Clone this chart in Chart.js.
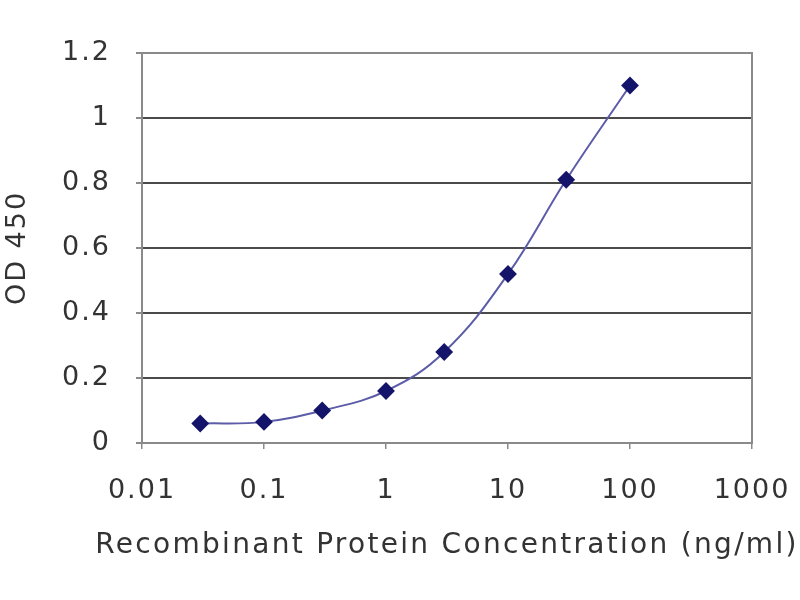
<!DOCTYPE html>
<html>
<head>
<meta charset="utf-8">
<script src="https://cdn.jsdelivr.net/npm/chart.js@4"></script>
<style>
  html, body { margin: 0; padding: 0; background: #fff; }
  #wrap { width: 800px; height: 600px; }
</style>
</head>
<body>
<div id="wrap"><canvas id="odChart" width="800" height="600"></canvas></div>
<script>
// concentration (ng/ml) and OD 450 readings
const concentrations = [0.03, 0.1, 0.3, 1, 3, 10, 30, 100];
const odValues = [0.06, 0.065, 0.10, 0.16, 0.28, 0.52, 0.81, 1.10];
const xTickValues = [0.01, 0.1, 1, 10, 100, 1000];
const yTickValues = [0, 0.2, 0.4, 0.6, 0.8, 1, 1.2];
const xTitle = "Recombinant Protein Concentration (ng/ml)";

// gray frame round the plot area, wide lettering, and the x title
// (the built-in title is squeezed to the plot width, the original runs wider)
const frame = {
  id: "frame",
  beforeDraw(chart) {
    chart.ctx.letterSpacing = "2px";
  },
  afterDraw(chart) {
    const a = chart.chartArea;
    const c = chart.ctx;
    c.save();
    c.strokeStyle = "#8a8a8a";
    c.lineWidth = 2;
    c.strokeRect(a.left, a.top, a.right - a.left, a.bottom - a.top);
    c.letterSpacing = "2.3px";
    c.fillStyle = "#333";
    c.font = "28px 'DejaVu Sans'";
    c.textAlign = "center";
    c.textBaseline = "middle";
    c.fillText(xTitle, (a.left + a.right) / 2, 546);
    c.restore();
    c.letterSpacing = "0px";
  }
};

const points = concentrations.map((x, i) => ({ x: x, y: odValues[i] }));

new Chart(document.getElementById("odChart").getContext("2d"), {
  type: "line",
  data: {
    datasets: [{
      data: points,
      borderColor: "#5c5ca8",
      borderWidth: 2,
      tension: 0.4,
      fill: false,
      pointStyle: "rectRot",
      pointRadius: 7.5,
      pointBackgroundColor: "#14146a",
      pointBorderColor: "#14146a"
    }]
  },
  plugins: [frame],
  options: {
    responsive: false,
    animation: false,
    layout: { padding: { left: 0, right: 48, top: 53, bottom: 0 } },
    plugins: { legend: { display: false }, tooltip: { enabled: false } },
    scales: {
      x: {
        type: "logarithmic",
        min: 0.01,
        max: 1000,
        afterBuildTicks: (axis) => { axis.ticks = xTickValues.map(v => ({ value: v })); },
        afterFit: (axis) => {
          axis.height = 157;
          axis.paddingLeft = 0;
          axis.paddingRight = 0;
        },
        ticks: {
          color: "#333",
          font: { family: "DejaVu Sans", size: 27 },
          padding: 26,
          maxRotation: 0,
          callback: (v) => String(v)
        },
        grid: { drawOnChartArea: false, drawTicks: true, tickLength: 6, color: "#8a8a8a", lineWidth: 1.5 },
        border: { color: "#8a8a8a", width: 2 },
        title: { display: false }
      },
      y: {
        min: 0,
        max: 1.2,
        afterBuildTicks: (axis) => { axis.ticks = yTickValues.map(v => ({ value: v })); },
        afterFit: (axis) => {
          axis.width = 142;
          axis.paddingTop = 0;
          axis.paddingBottom = 0;
        },
        ticks: {
          color: "#333",
          font: { family: "DejaVu Sans", size: 27 },
          padding: 25,
          callback: (v) => String(v)
        },
        grid: {
          color: (ctx) => (ctx.tick && (ctx.tick.value === 0 || ctx.tick.value === 1.2)) ? "#8a8a8a" : "#4a4a4a",
          lineWidth: 2,
          tickLength: 6,
          tickColor: "#8a8a8a"
        },
        border: { color: "#8a8a8a", width: 2 },
        title: {
          display: true,
          text: "OD 450",
          color: "#333",
          font: { family: "DejaVu Sans", size: 27 },
          padding: { top: 2, bottom: 0 }
        }
      }
    }
  }
});
</script>
</body>
</html>
